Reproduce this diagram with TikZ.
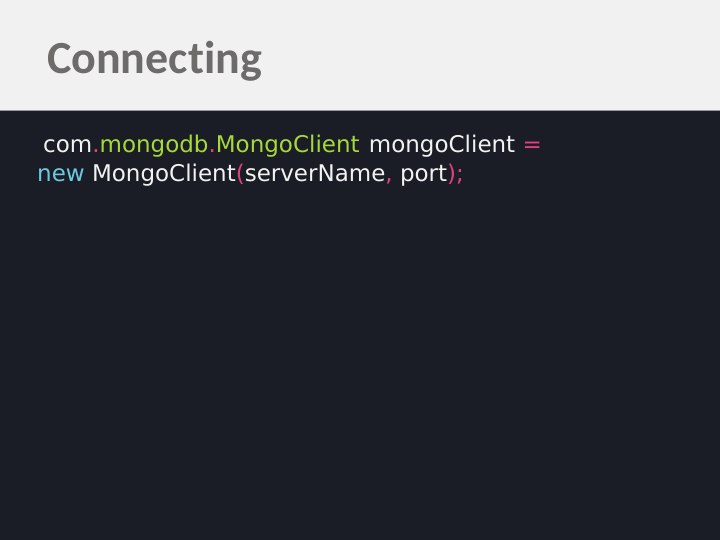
\documentclass[tikz,border=0pt]{standalone}
\usepackage{fontspec}
\setmainfont{DejaVu Sans}
\newfontfamily\titlefont[Ligatures=NoCommon]{Carlito}
\definecolor{headbg}{HTML}{F1F1F1}
\definecolor{bodybg}{HTML}{1A1D25}
\definecolor{titlegray}{HTML}{6E6B6B}
\definecolor{rulegray}{HTML}{9A9A9A}
\definecolor{codewhite}{HTML}{F2F2F2}
\definecolor{codegreen}{HTML}{A9D73A}
\definecolor{codepink}{HTML}{E0407E}
\definecolor{codecyan}{HTML}{6CC9E0}
\tikzset{
  codeline/.style={anchor=base west, inner sep=0pt, text=codewhite, font=\fontsize{23}{28}\selectfont},
  titletext/.style={anchor=base west, inner sep=0pt, text=titlegray, font=\titlefont\bfseries\fontsize{46}{52}\selectfont}
}
\newcommand{\cg}[1]{\textcolor{codegreen}{#1}}
\newcommand{\cp}[1]{\textcolor{codepink}{#1}}
\newcommand{\cc}[1]{\textcolor{codecyan}{#1}}
\begin{document}
\begin{tikzpicture}[x=1pt,y=-1pt]
\useasboundingbox (0,0) rectangle (720,540);
\fill[bodybg] (0,0) rectangle (720,540);
\fill[headbg] (0,0) rectangle (720,110);
\draw[rulegray, line width=1pt] (0,110.5) -- (720,110.5);
\node[titletext] (title) at (47,74) {Connecting};
\node[codeline] (line1) at (43,153) {com\cp{.}\cg{mongodb}\cp{.}\cg{MongoClient}\hspace{2pt} mongoClient \cp{=}};
\node[codeline] (line2) at (37,182) {\cc{new} MongoClient\cp{(}serverName\cp{,} port\cp{);}};
\end{tikzpicture}
\end{document}
